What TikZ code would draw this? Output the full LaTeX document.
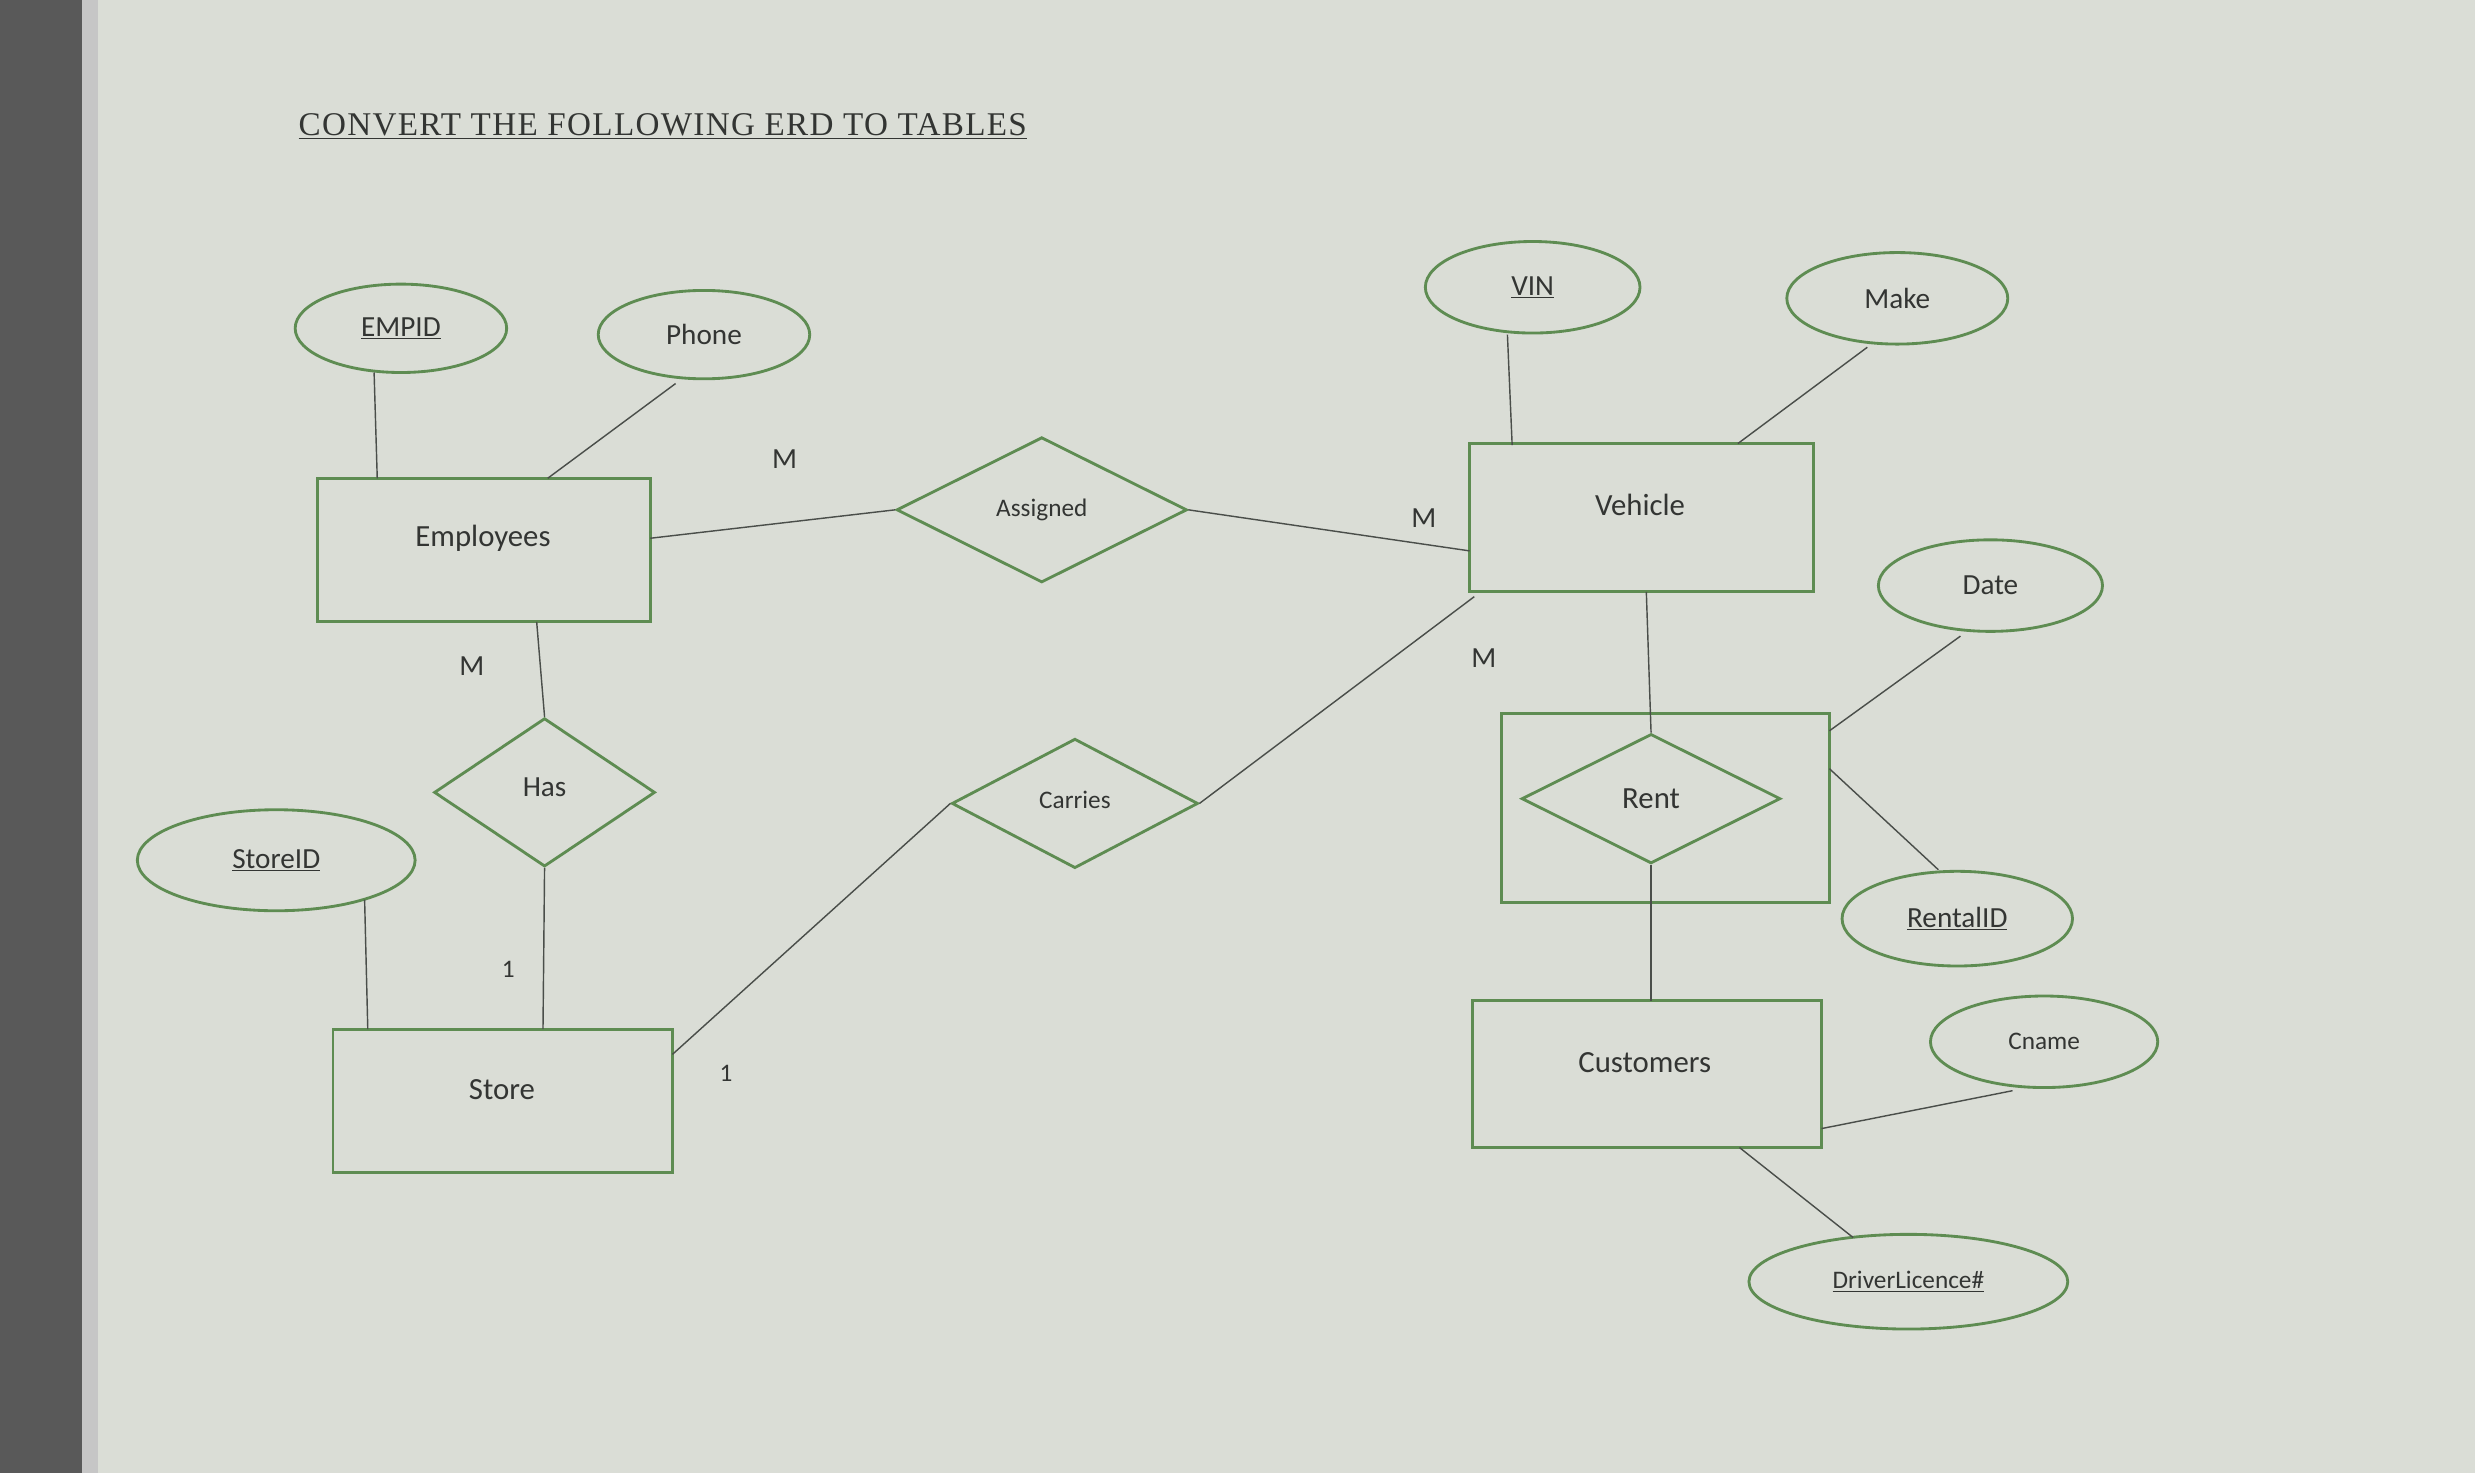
\documentclass[tikz,border=0pt]{standalone}
\usepackage{fontspec}
\setmainfont{Carlito}
\newfontfamily\titlefont[LetterSpace=4]{Liberation Serif}
\usetikzlibrary{shapes.geometric}
\definecolor{bg}{HTML}{DADDD6}
\definecolor{gr}{HTML}{5E8C52}
\definecolor{ln}{HTML}{4A4E4A}
\definecolor{tx}{HTML}{333533}
\tikzset{
 ent/.style={draw=gr,line width=1.8pt,rectangle,inner sep=0pt,text=tx},
 attr/.style={draw=gr,line width=1.8pt,ellipse,inner sep=0pt,text=tx,font=\fontsize{18.5}{20}\selectfont},
 rel/.style={draw=gr,line width=1.8pt,diamond,inner sep=0pt,text=tx,font=\fontsize{16}{18}\selectfont},
 lab/.style={text=tx,font=\fontsize{18.5}{20}\selectfont},
 big/.style={text=tx,font=\fontsize{19.5}{21}\selectfont},
 con/.style={draw=ln,line width=0.9pt}
}
\begin{document}
\begin{tikzpicture}[x=1pt,y=-1pt]
\useasboundingbox (0,0) rectangle (1568,933);
\fill[bg] (0,0) rectangle (1568,933);
\fill[gray!70!black] (0,0) rectangle (52,933);
\fill[gray!45] (52,0) rectangle (62,933);
\node[text=tx,font=\titlefont\fontsize{21}{23}\selectfont,anchor=west,inner sep=0pt] (title) at (189,80) {\underline{CONVERT THE FOLLOWING ERD TO TABLES}};
% entities
\node[ent,minimum width=211pt,minimum height=91pt] (emp) at (306.5,348.5) {};
\node[big] (empt) at (306,341) {Employees};
\node[ent,minimum width=218pt,minimum height=94pt] (veh) at (1040,328) {};
\node[big] (veht) at (1039,320) {Vehicle};
\node[ent,minimum width=208pt,minimum height=120pt] (rentbox) at (1055,512) {};
\node[ent,minimum width=221pt,minimum height=93pt] (cus) at (1043.5,680.5) {};
\node[big] (cust) at (1042,673) {Customers};
\node[ent,minimum width=215pt,minimum height=91pt] (store) at (318.5,697.5) {};
\node[big] (storet) at (318,690) {Store};
% relationships
\node[rel,minimum width=184pt,minimum height=92pt] (assigned) at (660,323) {Assigned};
\node[rel,minimum width=164pt,minimum height=82pt,font=\fontsize{19.5}{21}\selectfont] (rent) at (1046,506) {Rent};
\node[rel,minimum width=140pt,minimum height=94pt] (has) at (345,502) {};
\node[lab] (hast) at (345,499) {Has};
\node[rel,minimum width=156pt,minimum height=82pt] (carries) at (681,509) {};
\node[text=tx,font=\fontsize{16}{18}\selectfont] (carriest) at (681,507) {Carries};
% attributes
\node[attr,minimum width=134pt,minimum height=56pt] (empid) at (254,208) {\underline{EMPID}};
\node[attr,minimum width=134pt,minimum height=56pt] (phone) at (446,212) {Phone};
\node[attr,minimum width=136pt,minimum height=58pt] (vin) at (971,182) {\underline{VIN}};
\node[attr,minimum width=140pt,minimum height=58pt] (make) at (1202,189) {Make};
\node[attr,minimum width=142pt,minimum height=58pt] (date) at (1261,371) {Date};
\node[attr,minimum width=146pt,minimum height=60pt] (rid) at (1240,582) {\underline{RentalID}};
\node[attr,minimum width=144pt,minimum height=58pt,font=\fontsize{16}{18}\selectfont] (cname) at (1295,660) {Cname};
\node[attr,minimum width=202pt,minimum height=60pt,font=\fontsize{16}{18}\selectfont] (dl) at (1209,812) {\underline{DriverLicence\#}};
\node[attr,minimum width=176pt,minimum height=64pt] (sid) at (175,545) {\underline{StoreID}};
% cardinalities
\node[lab] (m1) at (497,291) {M};
\node[lab] (m2) at (902,328) {M};
\node[lab] (m3) at (299,422) {M};
\node[lab] (m4) at (940,417) {M};
\node[lab,font=\fontsize{16}{18}\selectfont] (o1) at (322,614) {1};
\node[lab,font=\fontsize{16}{18}\selectfont] (o2) at (460,680) {1};
% connectors
\draw[con] (237,236) -- (239,303);
\draw[con] (428,243) -- (347,303);
\draw[con] (412,341) -- (assigned.west);
\draw[con] (assigned.east) -- (931,349);
\draw[con] (955,212) -- (958,282);
\draw[con] (1183,220) -- (1101,281);
\draw[con] (1043,375) -- (rent.north);
\draw[con] (1242,403) -- (1159,463);
\draw[con] (1159,487) -- (1228,551);
\draw[con] (rent.south) -- (1046,634);
\draw[con] (1154,715) -- (1275,691);
\draw[con] (1102,727) -- (1174,784);
\draw[con] (340,394) -- (has.north);
\draw[con] (has.south) -- (344,652);
\draw[con] (231,570) -- (233,652);
\draw[con] (426,668) -- (carries.west);
\draw[con] (carries.east) -- (934,378);
\end{tikzpicture}
\end{document}
